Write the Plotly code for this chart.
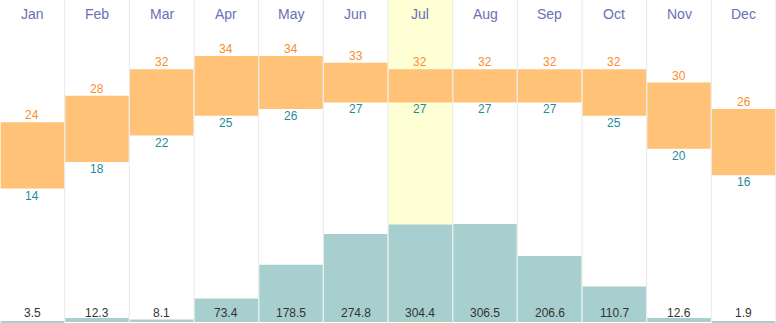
import plotly.graph_objects as go

months = ["Jan", "Feb", "Mar", "Apr", "May", "Jun", "Jul", "Aug", "Sep", "Oct", "Nov", "Dec"]
temp_high = [24, 28, 32, 34, 34, 33, 32, 32, 32, 32, 30, 26]
temp_low = [14, 18, 22, 25, 26, 27, 27, 27, 27, 25, 20, 16]
precip_mm = [3.5, 12.3, 8.1, 73.4, 178.5, 274.8, 304.4, 306.5, 206.6, 110.7, 12.6, 1.9]
highlight_month = "Jul"

ORANGE_BAR = "#ffc277"
PRECIP_BAR = "#a7cfcf"
HIGH_TXT = "#f98e2a"
LOW_TXT = "#1f8c97"
MONTH_TXT = "#6a70b6"
PRECIP_TXT = "#333333"
GRID = "#e8e8e8"
FONT = "Liberation Sans, Arial, sans-serif"

fig = go.Figure()

# monthly temperature range: floating bars from low to high
fig.add_trace(go.Bar(
    x=months,
    y=[h - l for h, l in zip(temp_high, temp_low)],
    base=temp_low,
    marker=dict(color=ORANGE_BAR, line=dict(width=0)),
    hoverinfo="skip",
    yaxis="y",
))

# monthly precipitation on a secondary axis
fig.add_trace(go.Bar(
    x=months,
    y=precip_mm,
    marker=dict(color=PRECIP_BAR, line=dict(width=0)),
    hoverinfo="skip",
    yaxis="y2",
))

annotations = []
for m, h, l, p in zip(months, temp_high, temp_low, precip_mm):
    annotations.append(dict(x=m, y=h, xref="x", yref="y", text=str(h),
                            showarrow=False, yanchor="middle", yshift=7,
                            font=dict(family=FONT, size=12, color=HIGH_TXT)))
    annotations.append(dict(x=m, y=l, xref="x", yref="y", text=str(l),
                            showarrow=False, yanchor="middle", yshift=-7,
                            font=dict(family=FONT, size=12, color=LOW_TXT)))
    annotations.append(dict(x=m, y=10.3 / 323, xref="x", yref="paper", text=f"{p:.1f}",
                            showarrow=False, yanchor="middle",
                            font=dict(family=FONT, size=12, color=PRECIP_TXT)))
    annotations.append(dict(x=m, y=1 - 14 / 323, xref="x", yref="paper", text=m,
                            showarrow=False, yanchor="middle",
                            font=dict(family=FONT, size=14, color=MONTH_TXT)))

shapes = []
hi = months.index(highlight_month)
shapes.append(dict(type="rect", xref="x", yref="paper", x0=hi - 0.5, x1=hi + 0.5,
                   y0=0, y1=1, fillcolor="#ffffd6", line=dict(width=0), layer="below"))
for i in range(len(months)):
    shapes.append(dict(type="line", xref="x", yref="paper", x0=i + 0.5, x1=i + 0.5,
                       y0=0, y1=1, line=dict(color=GRID, width=1), layer="below"))

fig.update_layout(
    width=776, height=323,
    margin=dict(l=0, r=0, t=0, b=0),
    paper_bgcolor="white", plot_bgcolor="white",
    showlegend=False,
    barmode="overlay",
    bargap=0.02,
    xaxis=dict(type="category", categoryorder="array", categoryarray=months,
               range=[-0.5, 11.5], showgrid=False, showticklabels=False,
               zeroline=False, fixedrange=True),
    yaxis=dict(range=[-6.27, 42.45], showgrid=False, showticklabels=False,
               zeroline=False, fixedrange=True),
    yaxis2=dict(range=[-3.1, 1006], overlaying="y", showgrid=False,
                showticklabels=False, zeroline=False, fixedrange=True),
    annotations=annotations,
    shapes=shapes,
)

fig.write_html("out.html")
